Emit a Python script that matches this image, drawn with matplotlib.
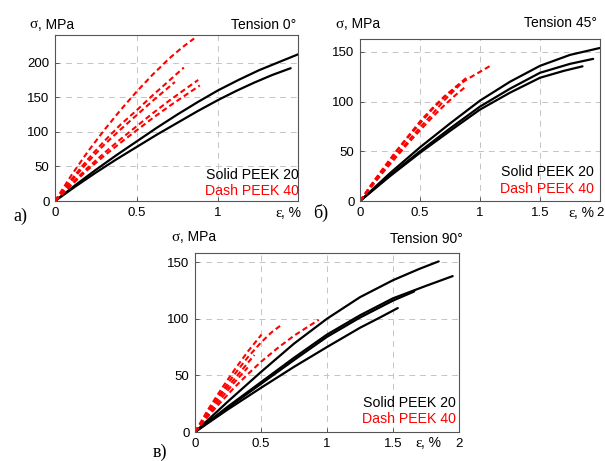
import matplotlib
matplotlib.use("Agg")
import matplotlib.pyplot as plt

# ---------------- data: strain (%) / stress (MPa) ----------------
# Tension 0°
a_solid_strain = [
    [0, 0.125, 0.25, 0.375, 0.5, 0.625, 0.75, 0.875, 1.0, 1.125, 1.25, 1.375, 1.49],
    [0, 0.125, 0.25, 0.375, 0.5, 0.625, 0.75, 0.875, 1.0, 1.11, 1.22, 1.33, 1.445],
]
a_solid_stress = [
    [0, 23, 45, 66, 86, 106, 125, 143, 160, 175, 189, 201, 212],
    [0, 21, 41, 60, 78, 96, 113, 130, 146, 159, 171, 182, 192],
]
a_dash_strain = [
    [0, 0.1, 0.2, 0.3, 0.4, 0.5, 0.6, 0.7, 0.78, 0.853],
    [0, 0.1, 0.2, 0.3, 0.4, 0.5, 0.6, 0.7, 0.79],
    [0, 0.1, 0.2, 0.3, 0.4, 0.5, 0.6, 0.735],
    [0, 0.1, 0.2, 0.3, 0.4, 0.5, 0.6, 0.7, 0.8, 0.878],
    [0, 0.1, 0.2, 0.3, 0.4, 0.5, 0.6, 0.7, 0.8, 0.888],
]
a_dash_stress = [
    [0, 37, 71, 102, 131, 158, 183, 206, 222, 235],
    [0, 31, 60, 86, 110, 131, 153, 174, 193],
    [0, 29, 56, 81, 103, 124, 145, 172],
    [0, 25, 48, 69, 89, 108, 127, 145, 162, 175],
    [0, 23, 45, 65, 84, 102, 120, 137, 153, 167],
]

# Tension 45°
b_solid_strain = [
    [0, 0.25, 0.5, 0.75, 1.0, 1.25, 1.5, 1.75, 2.0],
    [0, 0.25, 0.5, 0.75, 1.0, 1.25, 1.5, 1.75, 1.943],
    [0, 0.25, 0.5, 0.75, 1.0, 1.25, 1.5, 1.7, 1.854],
]
b_solid_stress = [
    [0, 28, 54, 78, 101, 120, 136, 147, 154],
    [0, 26, 50, 73, 95, 113, 129, 138, 143],
    [0, 25, 48.5, 70.5, 92, 109, 124, 131, 135.5],
]
b_dash_strain = [
    [0, 0.1, 0.2, 0.3, 0.4, 0.5, 0.6, 0.7, 0.8, 0.9, 1.0, 1.1],
    [0, 0.1, 0.2, 0.3, 0.4, 0.5, 0.6, 0.7, 0.8, 0.906],
    [0, 0.1, 0.2, 0.3, 0.4, 0.5, 0.6, 0.7, 0.8, 0.864],
    [0, 0.1, 0.2, 0.3, 0.4, 0.5, 0.6, 0.7, 0.8, 0.88],
]
b_dash_stress = [
    [0, 17.5, 34, 50, 65, 80, 93, 105, 115, 123, 130, 137],
    [0, 17, 33, 49, 64, 78, 92, 104, 115, 126],
    [0, 16, 31, 46, 60, 74, 87, 101, 113, 121],
    [0, 15, 30, 44, 58, 71, 84, 96, 107, 115],
]

# Tension 90°
c_solid_strain = [
    [0, 0.25, 0.5, 0.75, 1.0, 1.25, 1.5, 1.7, 1.846],
    [0, 0.25, 0.5, 0.75, 1.0, 1.25, 1.5, 1.75, 1.952],
    [0, 0.25, 0.5, 0.75, 1.0, 1.25, 1.5, 1.66],
    [0, 0.25, 0.5, 0.75, 1.0, 1.25, 1.4, 1.536],
]
c_solid_stress = [
    [0, 27, 53, 78, 100, 119, 134, 144, 150.6],
    [0, 22.5, 44, 65.5, 86, 103, 118, 129, 137.6],
    [0, 21.5, 42.5, 63.5, 84, 101, 116, 124],
    [0, 20, 39, 57.5, 75, 92, 101, 109.4],
]
c_dash_strain = [
    [0, 0.1, 0.2, 0.3, 0.4, 0.504],
    [0, 0.1, 0.2, 0.3, 0.4, 0.5, 0.58, 0.66],
    [0, 0.1, 0.2, 0.3, 0.4, 0.5, 0.625, 0.75, 0.85, 0.937],
    [0, 0.1, 0.2, 0.3, 0.45],
    [0, 0.1, 0.2, 0.3, 0.4],
]
c_dash_stress = [
    [0, 20, 38, 55, 71, 86],
    [0, 18, 35, 51, 66, 79, 88, 95],
    [0, 14, 27, 39.5, 51, 62, 74, 85, 92.5, 99],
    [0, 17, 33, 47, 68],
    [0, 15, 30, 44, 57],
]

SANS = "Liberation Sans"
SERIF = "Liberation Serif"
W, H = 605, 461

fig = plt.figure(figsize=(W / 100, H / 100), dpi=100)


def box(l, t, r, b):
    return [l / W, 1 - b / H, (r - l) / W, (b - t) / H]


def put(x, y, s, ha="left", va="center", **kw):
    kw.setdefault("family", SANS)
    kw.setdefault("fontsize", 10)
    fig.text(x / W, 1 - y / H, s, ha=ha, va=va, **kw)


panels = [
    dict(rect=box(55, 35, 298, 201), xlim=(0, 1.49), ylim=(0, 240),
         xt=[0, 0.5, 1], xl=["0", "0.5", "1"], yt=[0, 50, 100, 150, 200],
         solid=(a_solid_strain, a_solid_stress), dash=(a_dash_strain, a_dash_stress),
         title="Tension 0°", sig=(29, 25), ttl=(296, 25), eps=(275, 213),
         leg=(299, 175, 191), lab=("а)", 20, 216)),
    dict(rect=box(360, 39, 600, 201), xlim=(0, 2), ylim=(0, 163),
         xt=[0, 0.5, 1, 1.5, 2], xl=["0", "0.5", "1", "1.5", "2"], yt=[0, 50, 100, 150],
         solid=(b_solid_strain, b_solid_stress), dash=(b_dash_strain, b_dash_stress),
         title="Tension 45°", sig=(335, 24), ttl=(597, 23), eps=(568, 213),
         leg=(594, 172, 189), lab=("б)", 321, 213)),
    dict(rect=box(195, 253, 459, 432), xlim=(0, 2), ylim=(0, 158),
         xt=[0, 0.5, 1, 1.5, 2], xl=["0", "0.5", "1", "1.5", "2"], yt=[0, 50, 100, 150],
         solid=(c_solid_strain, c_solid_stress), dash=(c_dash_strain, c_dash_stress),
         title="Tension 90°", sig=(171, 237), ttl=(463, 239), eps=(415, 443),
         leg=(456, 403, 419), lab=("в)", 160, 452)),
]

for p in panels:
    ax = fig.add_axes(p["rect"])
    ax.set_xlim(*p["xlim"])
    ax.set_ylim(*p["ylim"])
    ax.set_xticks(p["xt"])
    ax.set_xticklabels(p["xl"])
    ax.set_yticks(p["yt"])
    ax.tick_params(direction="in", length=3, width=0.6, labelsize=9.5,
                   colors="#444444", labelcolor="black", pad=4)
    for lbl in ax.get_xticklabels() + ax.get_yticklabels():
        lbl.set_family(SANS)
    for sp in ax.spines.values():
        sp.set_color("#555555")
        sp.set_linewidth(0.8)
    ax.grid(True, color="#c4c4c4", linestyle=(0, (6, 5)), linewidth=0.7)
    ax.set_axisbelow(True)

    for xs, ys in zip(*p["solid"]):
        ax.plot(xs, ys, color="black", lw=1.6, solid_capstyle="round",
                solid_joinstyle="round")
    for xs, ys in zip(*p["dash"]):
        ax.plot(xs, ys, color="#ff0000", lw=1.5, linestyle=(0, (2.6, 1.6)))

    # axis captions and annotations
    sx, sy = p["sig"]
    put(sx, sy, "σ", family=SERIF, fontsize=11)
    put(sx + 9, sy, ", MPa", fontsize=10)
    tx, ty = p["ttl"]
    put(tx, ty, p["title"], ha="right", fontsize=10)
    ex, ey = p["eps"]
    put(ex, ey, "ε", family=SERIF, fontsize=11)
    put(ex + 6, ey, ", %", fontsize=10)
    lx, l1, l2 = p["leg"]
    put(lx, l1, "Solid PEEK 20", ha="right", fontsize=10.2, color="black")
    put(lx, l2, "Dash PEEK 40", ha="right", fontsize=10.2, color="#ff0000")
    s, px_, py_ = p["lab"]
    put(px_, py_, s, ha="center", family=SERIF, fontsize=13)

fig.savefig("out.png", dpi=100)
